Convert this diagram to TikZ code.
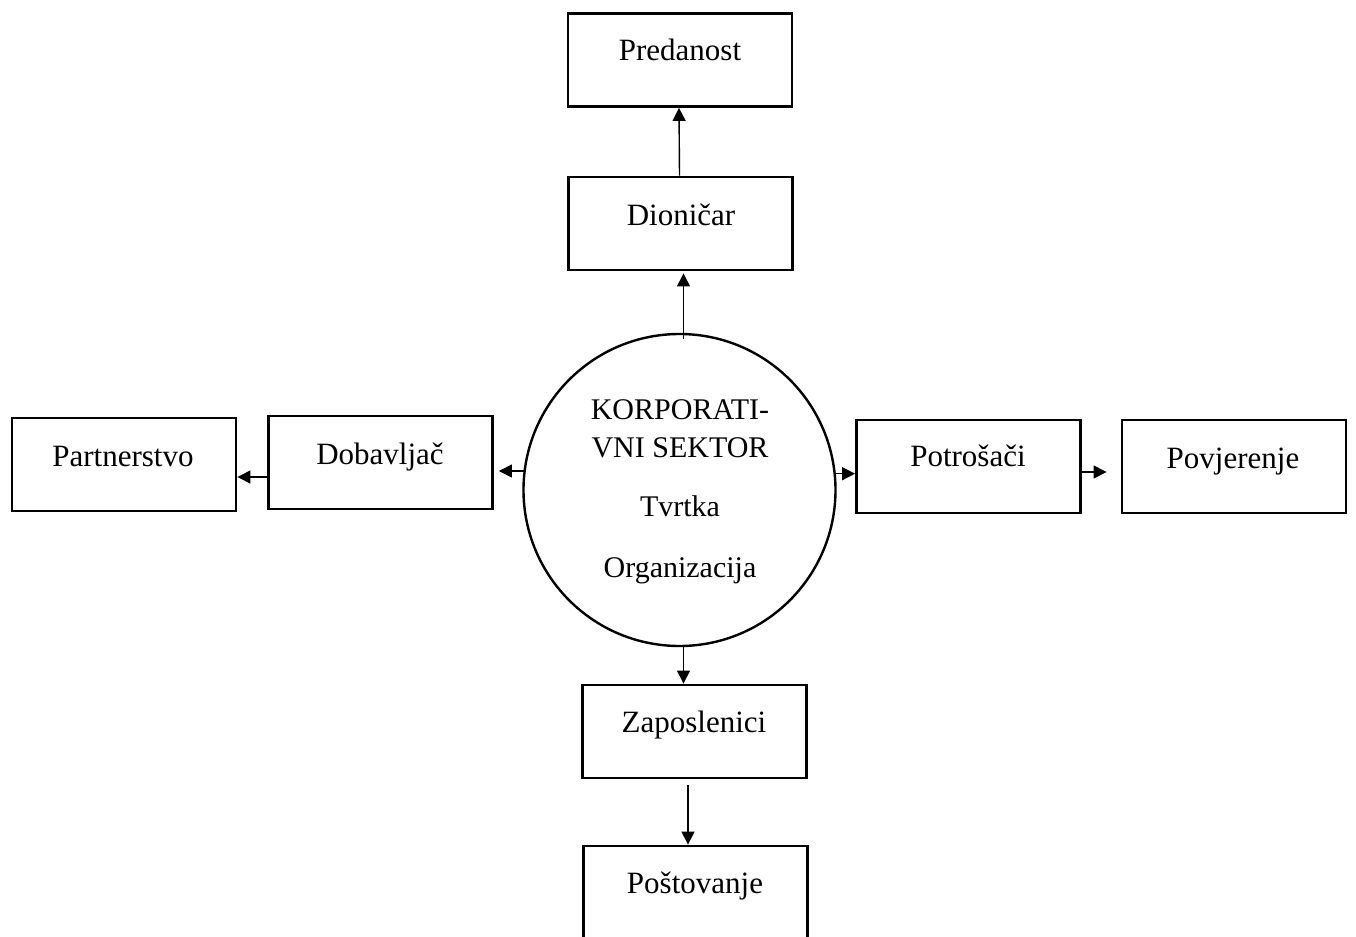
\documentclass[tikz,border=0pt]{standalone}
\usepackage{fontspec}
\setmainfont{Liberation Serif}
\usetikzlibrary{arrows.meta,calc}
\begin{document}
\begin{tikzpicture}[x=0.5pt,y=-0.5pt,
  box/.style={draw, line width=1.45pt, minimum width=112pt, minimum height=46.5pt, inner sep=0pt},
  lbl/.style={anchor=base, inner sep=0pt, font=\fontsize{15.5}{18}\selectfont},
  clbl/.style={anchor=base, inner sep=0pt, font=\fontsize{15}{18}\selectfont},
  arr/.style={line width=0.7pt, -{Triangle[length=6.5pt,width=6.5pt]}},
  ring/.style={draw, circle, line width=1.2pt, minimum size=156pt, inner sep=0pt, outer sep=0pt}]
\useasboundingbox (0,0) rectangle (1356,937);
\clip (0,0) rectangle (1356,937);
% boxes
\node[box] (pred) at (680,60) {};
\node[box] (dion) at (680.5,223.5) {};
\node[box] (part) at (124,464.5) {};
\node[box] (dobav) at (380.5,462.5) {};
\node[box] (potr) at (968.5,466.5) {};
\node[box] (povj) at (1234,466.5) {};
\node[box] (zap) at (694.5,731.5) {};
\node[box] (post) at (695.5,892.5) {};
\node[ring] (circ) at (679.5,490) {};
% labels
\node[lbl] (predT) at (680,61) {Predanost};
\node[lbl] (dionT) at (681,225) {Dioničar};
\node[lbl] (partT) at (123,466) {Partnerstvo};
\node[lbl] (dobavT) at (380,464) {Dobavljač};
\node[lbl] (potrT) at (968,466) {Potrošači};
\node[lbl] (povjT) at (1233,468) {Povjerenje};
\node[lbl] (zapT) at (694,732) {Zaposlenici};
\node[lbl] (postT) at (695,893) {Poštovanje};
\node[clbl] (c1) at (680,419) {KORPORATI-};
\node[clbl] (c2) at (680,457) {VNI SEKTOR};
\node[clbl] (c3) at (680,516) {Tvrtka};
\node[clbl] (c4) at (680,577) {Organizacija};
% connectors
\draw[arr] ([xshift=-0.5pt]dion.north) -- ([xshift=-0.5pt]pred.south);
\draw[arr, shorten <=-2.5pt, shorten >=1pt] ([xshift=2pt]circ.north) -- ([xshift=2pt]circ.north |- dion.south);
\draw[arr, shorten >=2.5pt] (circ.173.4) -- (circ.173.4 -| dobav.east);
\draw[arr] ([yshift=-7.25pt]dobav.west) -- ([yshift=-7.25pt]dobav.west -| part.east);
\draw[arr] (circ.6.6) -- (circ.6.6 -| potr.west);
\draw[arr, shorten >=7pt] ([yshift=-2.75pt]potr.east) -- ([yshift=-2.75pt]potr.east -| povj.west);
\draw[arr] ([xshift=2pt]circ.south) -- ([xshift=2pt]circ.south |- zap.north);
\draw[arr, shorten <=3pt] ([xshift=-3.25pt]zap.south) -- ([xshift=-3.25pt]zap.south |- post.north);
\end{tikzpicture}
\end{document}
